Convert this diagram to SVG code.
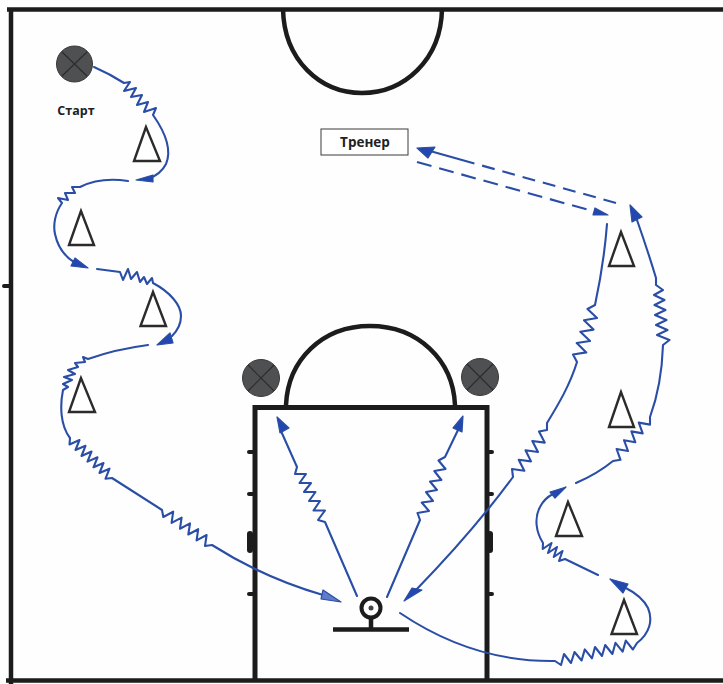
<svg xmlns="http://www.w3.org/2000/svg" width="723" height="684" viewBox="0 0 723 684">
<style>
.court{fill:none;stroke:#1c1c1c;stroke-width:4.5;stroke-linecap:butt}
.tick{fill:none;stroke:#1c1c1c;stroke-width:4;stroke-linecap:round}
.cone{fill:#fff;stroke:#2b2b2b;stroke-width:2.4;stroke-linejoin:miter}
.ball{fill:#4f5052;stroke:#3a3a3c;stroke-width:1}
.cross{stroke:#2c2c2e;stroke-width:1.2;fill:none}
.run{fill:none;stroke:#2a4ea6;stroke-width:2.1;stroke-linejoin:round;stroke-linecap:round}
.head{fill:#2347ae;stroke:#2a4ea6;stroke-width:1.2;stroke-linejoin:round}
.d1{stroke-dasharray:13 8;stroke-linecap:butt}
.d2{stroke-dasharray:15 8;stroke-linecap:butt}
text{font-family:"Open Sans","Liberation Sans",sans-serif;font-weight:700;fill:#222}
</style>
<rect width="723" height="684" fill="#fefefe"/>
<g id="court">
<path class="court" d="M7 9.500H723M11 8V684M6 680.500H723"/>
<path class="court" d="M283 9C284 60 320 93 362 93C404 93 441 60 442 9"/>
<path class="court" d="M255 680V407.500H487V680" style="stroke-width:5"/>
<path class="court" d="M286 405C288 360 322 326 370 326C418 326 453 360 455 405"/>
<path class="tick" d="M4 286H11M249 452H254M249 494H254M249 594H254M487 452H492M487 494H492M487 594H492"/>
<path class="tick" d="M250 534V550M490 534V550" style="stroke-width:6"/>
</g>
<g id="connectors">
<path class="run" d="M94 67Q110 74 124 83L130 82L124 91L136 88L131 97L142 95L137 105L148 102L144 112L156 108L153 115C165 132 172 150 166 164C162 172 156 176 148 179"/>
<polygon class="head" points="136,180 153,175 153,182"/>
<path class="run" d="M128 181C108 178 92 181 80 187L72 187L75 193L65 193L68 200L58 198L62 203C55 213 53 225 55 234C58 248 64 256 74 262"/>
<polygon class="head" points="88,268 75,258 71,266"/>
<path class="run" d="M97 269L120 272L123 280L128 269L131 279L137 272L140 282L144 277L147 284L152 278L153 283C170 292 181 305 181 316C181 325 177 331 172 336"/>
<polygon class="head" points="157,345 170,333 173,343"/>
<path class="run" d="M148 345C125 348 105 353 88 359L83 357L85 362L75 363L78 367L68 370L75 374L64 377L72 380L63 384L68 387L63 390C60 405 60 425 70 438L69.500 444.500L79.500 440L75.500 450L85.500 445.800L81.500 456L91.500 451.500L87.500 461.600L97.500 457.300L93.500 467.300L103.500 463L99.500 473L109.500 468.700L105.500 478.700L112 478L162 510L163.300 517L173.200 511.700L171.600 522.900L181.600 517.600L180 528.700L190 523.400L188.300 534.500L198.200 529.200L196.600 540.400L206.600 535L205 546L212 545C245 566 285 584 323 595"/>
<polygon class="head" points="341,602 323,590 321,599" style="fill:#5f7ccc"/>
<path class="run" d="M357 596L325 522L318 520L325 510.500L313.500 510.500L320 501L309 501L315.500 492L304 492L311 483L299.500 483L306 474L295 474L297 467L281 431"/>
<polygon class="head" points="277,417 280,433 289,428"/>
<path class="run" d="M387 597L420 520L417.500 513L429 511L421.700 502.500L433 501L426 492L437 490L430 481.500L441.400 480L434.300 471L445.600 469L438.500 460.500L445 457L458 430"/>
<polygon class="head" points="463,416 453,428 462,432"/>
<path class="run" d="M607 224C605 250 601 277 595 305L587.500 309L597 318L584 320.300L593.500 329.600L580.300 331.700L590 341L576.700 343L586.300 352.400L573 354.500L577 362C570 385 558 405 547 423L547 430L539 431.500L544.700 442.600L532.300 441L538 452L525.500 450.300L531 461.400L518.700 459.700L524.300 470.800L512 469L513 477C485 515 450 555 415 591"/>
<polygon class="head" points="404,601 412,588 422,590"/>
<path class="run" d="M400 613C440 640 490 662 555 661L561 665L564 654L571 663L574.500 652L581.600 660.500L584.800 649.400L592 658.300L595 647L602 656L605.200 645L612.400 654L615.500 642.800L622.600 651.700L625.800 640.600L632.900 649.500L637 643C650 633 653 620 648 608C643 598 634 592 624 587"/>
<polygon class="head" points="610,579 628,584 623,593"/>
<path class="run" d="M598 575L565 559L559 561L562.500 551L553.750 557L557 547L548 553L551.500 543L542.750 549L543 543C536 532 534 518 540 507C543 501 547 497 553 494"/>
<polygon class="head" points="566,487 550,492 555,498"/>
<path class="run" d="M576 483C590 477 602 470 613 461L620.500 459.800L616.600 449L628 451L624 440.200L635.300 442.200L631.400 431.400L642.700 433.400L638.800 422.600L650 424.600L650 417C657 398 662 375 663 345L669.500 340L657 335L667.500 330L656 325L666.500 320L655 315L665.500 310L654.500 305L664.500 300L654 295L663 290L656 285L656 278C650 258 644 240 637 220"/>
<polygon class="head" points="630,205 632,222 642,217"/>
<path class="run d1" d="M616 203L462 160"/>
<path class="run" d="M462 160L430 151"/>
<polygon class="head" points="417,148 435,147 428,158"/>
<path class="run d2" d="M417 162L596 212"/>
<polygon class="head" points="608,215 595,208 593,215"/>
</g>
<g id="start-ball">
<circle class="ball" cx="74.500" cy="64" r="18"/>
<path class="cross" d="M62 52L87 76M87 52L62 76"/>
</g>
<text id="start-label" x="76" y="115" font-size="12.500" text-anchor="middle">Старт</text>
<g id="ball-left">
<circle class="ball" cx="261" cy="378" r="18.500"/>
<path class="cross" d="M248 365L274 391M274 365L248 391"/>
</g>
<g id="ball-right">
<circle class="ball" cx="480" cy="377" r="18.500"/>
<path class="cross" d="M467 364L493 390M493 364L467 390"/>
</g>
<g id="coach">
<rect x="321" y="129" width="87" height="26" fill="#fff" stroke="#3a3a3a" stroke-width="1"/>
<text x="365" y="147" font-size="13.500" text-anchor="middle">Тренер</text>
</g>
<g id="cone-1"><polygon class="cone" points="146,127 134,161 160,161"/></g>
<g id="cone-2"><polygon class="cone" points="81,211 69,245 94,245"/></g>
<g id="cone-3"><polygon class="cone" points="153,292 140.500,326 166,326"/></g>
<g id="cone-4"><polygon class="cone" points="81,378 69,412 95,412"/></g>
<g id="cone-5"><polygon class="cone" points="621,232 609,266 634,266"/></g>
<g id="cone-6"><polygon class="cone" points="621,392 609,427 634,427"/></g>
<g id="cone-7"><polygon class="cone" points="568,502 556,536 582,536"/></g>
<g id="cone-8"><polygon class="cone" points="624,600 611.500,634 637,634"/></g>
<g id="basket">
<circle cx="371" cy="608" r="9.500" fill="#fff" stroke="#1c1c1c" stroke-width="4"/>
<circle cx="371" cy="608" r="2.500" fill="#444"/>
<path d="M371 618V629M333 629.500H409" fill="none" stroke="#1c1c1c" stroke-width="4.500"/>
</g>
</svg>
